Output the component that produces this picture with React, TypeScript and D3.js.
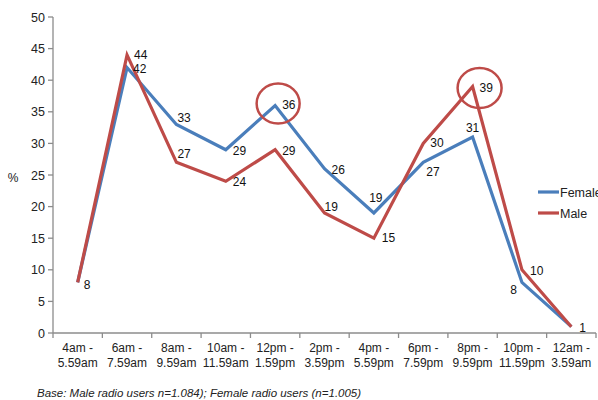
import React from "react";
import * as d3 from "d3";

const categories: string[][] = [
  ["4am -", "5.59am"],
  ["6am -", "7.59am"],
  ["8am -", "9.59am"],
  ["10am -", "11.59am"],
  ["12pm -", "1.59pm"],
  ["2pm -", "3.59pm"],
  ["4pm -", "5.59pm"],
  ["6pm -", "7.59pm"],
  ["8pm -", "9.59pm"],
  ["10pm -", "11.59pm"],
  ["12am -", "3.59am"],
];
const female = [8, 42, 33, 29, 36, 26, 19, 27, 31, 8, 1];
const male = [8, 44, 27, 24, 29, 19, 15, 30, 39, 10, 1];
const yTicks = [0, 5, 10, 15, 20, 25, 30, 35, 40, 45, 50];

// label placement: [dx, dy, anchor] ; null = no label
type LP = [number, number, string] | null;
const femaleLabels: LP[] = [
  null, [6, 5.5, "start"], [1, -2, "start"], [7, 5, "start"], [7, 4, "start"],
  [7, 5, "start"], [2, -11, "middle"], [3, 14, "start"], [0, -5, "middle"],
  [-5, 12, "end"], null,
];
const maleLabels: LP[] = [
  [6, 6.5, "start"], [7, 4, "start"], [1, -4, "start"], [7, 5, "start"], [7, 5, "start"],
  [0, -2, "start"], [8, 4, "start"], [7, 4, "start"], [7, 5, "start"],
  [8, 5, "start"], [8, 5, "start"],
];

const BLUE = "#4A7EBB";
const RED = "#BE4B48";
const FONT = "'Liberation Sans', Arial, sans-serif";

export default function App() {
  const W = 598, H = 400;
  const left = 53, right = 596, top = 17, bottom = 333;
  const x = d3.scaleBand<number>().domain(d3.range(categories.length)).range([left, right]);
  const y = d3.scaleLinear().domain([0, 50]).range([bottom, top]);
  const cx = (i: number) => (x(i) as number) + x.bandwidth() / 2;
  const line = d3.line<number>().x((_, i) => cx(i)).y((d) => y(d));
  const axisColor = "#8c8c8c";

  const labels = (data: number[], lp: LP[]) =>
    data.map((d, i) => {
      const p = lp[i];
      if (!p) return null;
      return (
        <text key={i} x={cx(i) + p[0]} y={y(d) + p[1]} textAnchor={p[2] as any}
          fontSize={12} fill="#111" fontFamily={FONT}>{d}</text>
      );
    });

  return (
    <svg width={W} height={H} style={{ position: "absolute", left: 0, top: 0, background: "#fff" }}>
      {/* y axis */}
      <line x1={left} x2={left} y1={top} y2={bottom} stroke={axisColor} strokeWidth={1.3} />
      {yTicks.map((t) => (
        <g key={t}>
          <line x1={left - 5} x2={left} y1={y(t)} y2={y(t)} stroke={axisColor} strokeWidth={1.3} />
          <text x={left - 8} y={y(t) + 4.5} textAnchor="end" fontSize={12.5} fill="#222" fontFamily={FONT}>{t}</text>
        </g>
      ))}
      <text x={13} y={182} textAnchor="middle" fontSize={12} fill="#222" fontFamily={FONT}>%</text>
      {/* x axis */}
      <line x1={left} x2={right} y1={bottom} y2={bottom} stroke={axisColor} strokeWidth={1.3} />
      {d3.range(categories.length + 1).map((i) => {
        const xx = i < categories.length ? (x(i) as number) : right;
        return <line key={i} x1={xx} x2={xx} y1={bottom} y2={bottom + 5} stroke={axisColor} strokeWidth={1.3} />;
      })}
      {categories.map((c, i) => (
        <text key={i} x={cx(i)} y={bottom + 19} textAnchor="middle" fontSize={12} fill="#222" fontFamily={FONT}>
          <tspan x={cx(i)}>{c[0]}</tspan>
          <tspan x={cx(i)} dy={15}>{c[1]}</tspan>
        </text>
      ))}
      {/* lines */}
      <path d={line(female) || ""} fill="none" stroke={BLUE} strokeWidth={3.2} strokeLinejoin="miter" />
      <path d={line(male) || ""} fill="none" stroke={RED} strokeWidth={3.2} strokeLinejoin="miter" />
      {labels(female, femaleLabels)}
      {labels(male, maleLabels)}
      {/* highlight circles */}
      <ellipse cx={cx(4) + 3} cy={y(female[4]) - 2} rx={21.5} ry={20} fill="none" stroke={RED} strokeWidth={2.5} />
      <ellipse cx={cx(8) + 7} cy={y(male[8]) + 1.5} rx={22} ry={20} fill="none" stroke={RED} strokeWidth={2.5} />
      {/* legend */}
      <line x1={538} x2={559} y1={192} y2={192} stroke={BLUE} strokeWidth={3.2} />
      <text x={560} y={196.5} fontSize={12.5} fill="#222" fontFamily={FONT}>Female</text>
      <line x1={538} x2={559} y1={213} y2={213} stroke={RED} strokeWidth={3.2} />
      <text x={560} y={217.5} fontSize={12.5} fill="#222" fontFamily={FONT}>Male</text>
      {/* footnote */}
      <text x={37} y={397} fontSize={11.5} fontStyle="italic" fill="#222" fontFamily={FONT}>
        Base: Male radio users n=1.084); Female radio users (n=1.005)
      </text>
    </svg>
  );
}
